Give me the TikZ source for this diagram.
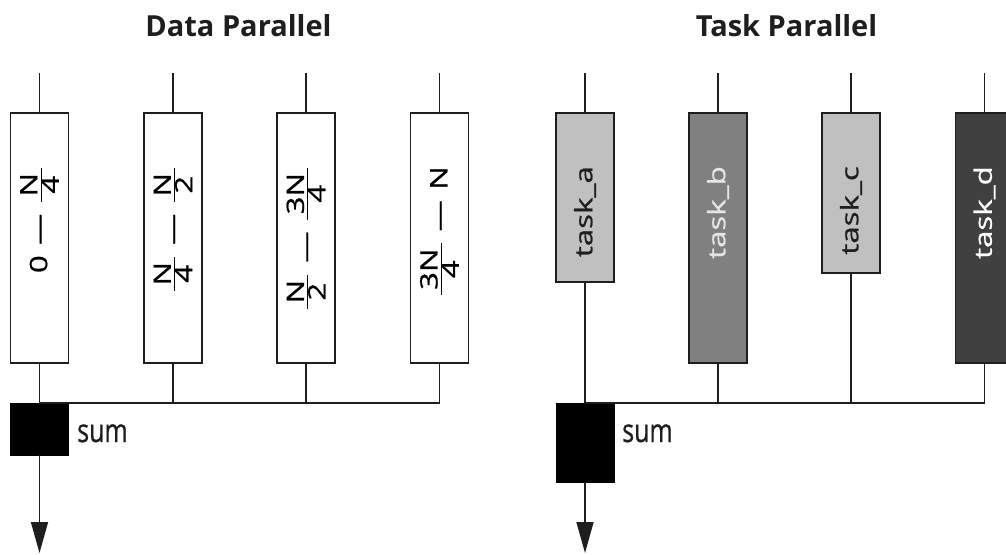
\documentclass[tikz,border=0pt]{standalone}
\usepackage{fontspec}
\setmainfont{Open Sans}
\usepackage{graphicx}
\usetikzlibrary{arrows.meta}
\definecolor{lightg}{RGB}{192,192,192}
\definecolor{midg}{RGB}{128,128,128}
\definecolor{darkg}{RGB}{64,64,64}
\definecolor{ink}{RGB}{30,30,30}
\newcommand{\myfrac}[2]{$\frac{\mbox{\,#1\,}}{\mbox{\,#2\,}}$}
\newcommand{\mydash}{\hspace{8pt}—\hspace{8pt}}
\newcommand{\stretchtxt}[1]{\scalebox{1.3}[1]{#1}}
\tikzset{
  box/.style={draw=ink, line width=1.8pt, minimum width=58pt, inner sep=0pt},
  wire/.style={draw=ink, line width=1.6pt},
  lbl/.style={rotate=90, anchor=east, inner sep=0pt, font=\fontsize{24}{28}\selectfont\addfontfeature{FakeBold=0.7}},
  title/.style={font=\bfseries\fontsize{29}{34}\selectfont, anchor=base, inner sep=0pt, text=ink},
  sumbox/.style={fill=black, draw=black, minimum width=58pt, inner sep=0pt},
  sumlbl/.style={font=\fontsize{25}{30}\selectfont\addfontfeature{FakeBold=0.7}, anchor=base west, inner sep=0pt, text=ink},
  arr/.style={wire, -{Triangle[length=31pt,width=17pt]}},
}
\begin{document}
\begin{tikzpicture}[x=1pt,y=-1pt]
\useasboundingbox (0,0) rectangle (1006,554);
\clip (0,0) rectangle (1006,554);
% titles
\node[title] (t1) at (238.5,36) {Data Parallel};
\node[title] (t2) at (786.5,36) {Task Parallel};
% data boxes
\node[box, minimum height=250pt] (b1) at (39.5,238) {};
\node[box, minimum height=250pt] (b2) at (173,238) {};
\node[box, minimum height=250pt] (b3) at (306,238) {};
\node[box, minimum height=250pt] (b4) at (439.5,238) {};
\node[lbl] (l1) at (39.5,166) {\stretchtxt{0\mydash\myfrac{N}{4}}};
\node[lbl] (l2) at (173,166) {\stretchtxt{\myfrac{N}{4}\mydash\myfrac{N}{2}}};
\node[lbl] (l3) at (306,166) {\stretchtxt{\myfrac{N}{2}\mydash\myfrac{3N}{4}}};
\node[lbl] (l4) at (439.5,166) {\stretchtxt{\myfrac{3N}{4}\mydash N}};
% task boxes
\node[box, fill=lightg, minimum height=169pt] (ta) at (585,197.5) {};
\node[box, fill=midg, minimum height=250pt] (tb) at (718,238) {};
\node[box, fill=lightg, minimum height=160pt] (tc) at (851,193) {};
\node[box, fill=darkg, minimum height=250pt] (td) at (984.5,238) {};
\node[lbl, text=ink] (la) at (585,166) {\stretchtxt{task\_a}};
\node[lbl, text=white!90!black] (lb) at (718,166) {\stretchtxt{task\_b}};
\node[lbl, text=ink] (lc) at (851,166) {\stretchtxt{task\_c}};
\node[lbl, text=white] (ld) at (984.5,166) {\stretchtxt{task\_d}};
% top inputs
\foreach \n in {b1,b2,b3,b4,ta,tb,tc,td}{
  \coordinate (in-\n) at ([yshift=39pt]\n.north);
  \draw[wire] (in-\n) -- (\n.north);
}
% sum boxes
\node[sumbox, minimum height=52pt] (s1) at (39.5,429) {};
\node[sumbox, minimum height=79pt] (s2) at (585,442.5) {};
\node[sumlbl] (sl1) at (77,442) {\scalebox{1}[1.3]{sum}};
\node[sumlbl] (sl2) at (622,442) {\scalebox{1}[1.3]{sum}};
% collectors
\draw[wire] (b1.south) -- (s1.north);
\draw[wire] (b4.south) |- (s1.north);
\draw[wire] (b2.south) -- (b2.south |- s1.north);
\draw[wire] (b3.south) -- (b3.south |- s1.north);
\draw[wire] (ta.south) -- (s2.north);
\draw[wire] (td.south) |- (s2.north);
\draw[wire] (tb.south) -- (tb.south |- s2.north);
\draw[wire] (tc.south) -- (tc.south |- s2.north);
% outputs
\coordinate (o1) at (39.5,553);
\coordinate (o2) at (585,553);
\draw[arr] (s1.south) -- (o1);
\draw[arr] (s2.south) -- (o2);
\end{tikzpicture}
\end{document}
